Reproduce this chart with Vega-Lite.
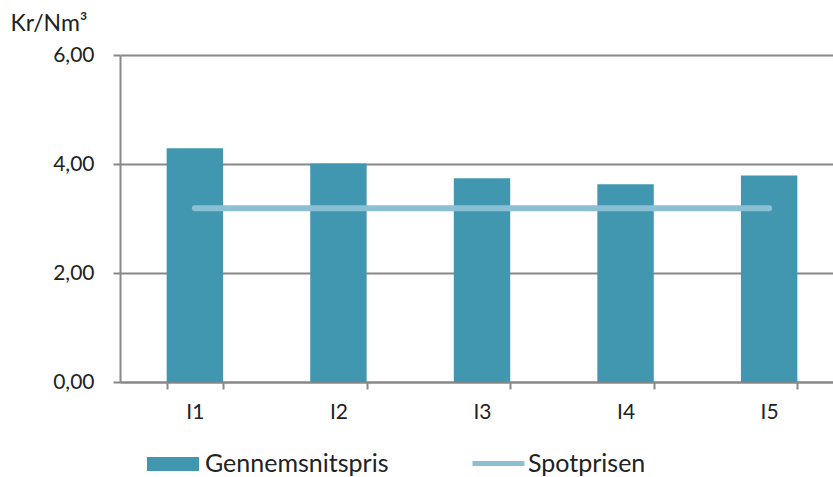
{
  "$schema": "https://vega.github.io/schema/vega-lite/v6.json",
  "autosize": "none",
  "width": 724,
  "height": 327,
  "padding": {"left": 120, "top": 55, "right": -11, "bottom": 95},
  "background": "white",
  "config": {"view": {"stroke": null}, "font": "Lato"},
  "data": {"values": [
    {"kategori": "I1", "Gennemsnitspris": 4.29, "Spotprisen": 3.19},
    {"kategori": "I2", "Gennemsnitspris": 4.01, "Spotprisen": 3.19},
    {"kategori": "I3", "Gennemsnitspris": 3.74, "Spotprisen": 3.19},
    {"kategori": "I4", "Gennemsnitspris": 3.63, "Spotprisen": 3.19},
    {"kategori": "I5", "Gennemsnitspris": 3.79, "Spotprisen": 3.19}
  ]},
  "encoding": {
    "x": {
      "field": "kategori", "type": "nominal",
      "scale": {"paddingInner": 0.607, "paddingOuter": 0.325},
      "axis": {
        "title": null, "labelAngle": 0, "labelFont": "Lato", "labelFontSize": 21, "labelColor": "#222",
        "labelPadding": 12, "tickBand": "extent", "tickSize": 7, "tickColor": "#888", "tickWidth": 2,
        "domainColor": "#888", "domainWidth": 2, "grid": false
      }
    }
  },
  "layer": [
    {
      "mark": {"type": "bar"},
      "encoding": {
        "y": {
          "field": "Gennemsnitspris", "type": "quantitative",
          "scale": {"domain": [0, 6]},
          "axis": {
            "values": [0, 2, 4, 6],
            "labelExpr": "replace(format(datum.value, '.2f'), '.', ',')",
            "labelFont": "Lato", "labelFontSize": 21, "labelColor": "#222", "labelPadding": 19,
            "tickSize": 7, "tickColor": "#888", "tickWidth": 2,
            "domainColor": "#888", "domainWidth": 2,
            "grid": true, "gridColor": "#888", "gridWidth": 2,
            "title": "Kr/Nm³", "titleAngle": 0, "titleAlign": "left", "titleBaseline": "alphabetic",
            "titleX": -110, "titleY": -25, "titleFont": "Lato", "titleFontSize": 23,
            "titleFontWeight": "normal", "titleColor": "#222"
          }
        },
        "fill": {
          "datum": "Gennemsnitspris",
          "scale": {"domain": ["Gennemsnitspris"], "range": ["#4197B0"]},
          "legend": {
            "orient": "none", "legendX": 27, "legendY": 383, "title": null,
            "symbolType": "M-1,-0.27H1V0.27H-1Z", "symbolSize": 2704, "symbolStrokeWidth": 0,
            "labelFont": "Lato", "labelFontSize": 25, "labelColor": "#222", "labelOffset": 6, "labelLimit": 400
          }
        }
      }
    },
    {
      "mark": {"type": "line", "strokeWidth": 6, "strokeCap": "round"},
      "encoding": {
        "y": {"field": "Spotprisen", "type": "quantitative"},
        "stroke": {
          "datum": "Spotprisen",
          "scale": {"domain": ["Spotprisen"], "range": ["#8BBFD4"]},
          "legend": {
            "orient": "none", "legendX": 350, "legendY": 380, "title": null,
            "symbolType": "stroke", "symbolSize": 2704, "symbolStrokeWidth": 5,
            "labelFont": "Lato", "labelFontSize": 25, "labelColor": "#222", "labelOffset": 1, "labelLimit": 400
          }
        }
      }
    }
  ]
}
